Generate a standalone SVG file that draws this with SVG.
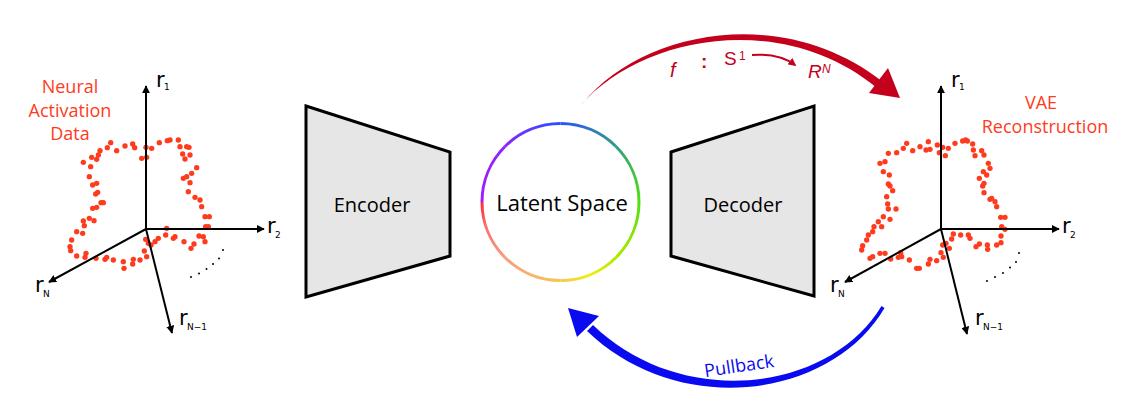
<svg xmlns="http://www.w3.org/2000/svg" width="1142" height="415" viewBox="0 0 1142 415">
<style>
.ax{stroke:#000;stroke-width:2;fill:none;marker-end:url(#ah)}
.rl{font-family:"DejaVu Sans",sans-serif;font-size:21px;fill:#000}
.sb{font-family:"DejaVu Sans",sans-serif;font-size:9px;fill:#000}
.lbl{font-family:"Open Sans","Liberation Sans",sans-serif;font-size:18px;fill:#ff3b1d;text-anchor:middle}
.dots circle{fill:#ff3b1d}
.ell circle{fill:#000}
.box{fill:#e6e6e6;stroke:#000;stroke-width:3;stroke-linejoin:miter}
.nt{font-family:"Open Sans","Liberation Sans",sans-serif;font-size:20px;fill:#000;text-anchor:middle}
.red{fill:#c4001c}
.blue{fill:#0a0af0}
.rt{font-family:"Liberation Sans","Open Sans",sans-serif;fill:#c4001c}
.arc{fill:none;stroke-width:3}
</style>
<defs>
<marker id="ah" viewBox="0 0 10 10" refX="9" refY="5" markerWidth="4" markerHeight="4" orient="auto" markerUnits="strokeWidth">
<path d="M0,0 L10,5 L0,10 z" fill="#000"/>
</marker>
<marker id="ahr" viewBox="0 0 10 10" refX="8" refY="5" markerWidth="4" markerHeight="4" orient="auto" markerUnits="strokeWidth">
<path d="M0,0 L10,5 L0,10 z" fill="#c4001c"/>
</marker>
<linearGradient id="g1" gradientUnits="userSpaceOnUse" x1="639" y1="202" x2="616" y2="257.5"><stop offset="0" stop-color="#50e010"/><stop offset="1" stop-color="#b0e800"/></linearGradient>
<linearGradient id="g2" gradientUnits="userSpaceOnUse" x1="616" y1="257.5" x2="560.5" y2="280.5"><stop offset="0" stop-color="#b0e800"/><stop offset="0.5" stop-color="#eef010"/><stop offset="1" stop-color="#f5c850"/></linearGradient>
<linearGradient id="g3" gradientUnits="userSpaceOnUse" x1="560.5" y1="280.5" x2="505" y2="257.5"><stop offset="0" stop-color="#f5c850"/><stop offset="1" stop-color="#f89c80"/></linearGradient>
<linearGradient id="g4" gradientUnits="userSpaceOnUse" x1="505" y1="257.5" x2="482" y2="202"><stop offset="0" stop-color="#f89c80"/><stop offset="0.6" stop-color="#fa7070"/><stop offset="1" stop-color="#ff2a3a"/></linearGradient>
<linearGradient id="g5" gradientUnits="userSpaceOnUse" x1="482" y1="202" x2="505" y2="146.5"><stop offset="0" stop-color="#a01cff"/><stop offset="1" stop-color="#8a26ff"/></linearGradient>
<linearGradient id="g6" gradientUnits="userSpaceOnUse" x1="505" y1="146.5" x2="560.5" y2="123.5"><stop offset="0" stop-color="#8a26ff"/><stop offset="1" stop-color="#2a50ff"/></linearGradient>
<linearGradient id="g7" gradientUnits="userSpaceOnUse" x1="560.5" y1="123.5" x2="616" y2="146.5"><stop offset="0" stop-color="#2a50ff"/><stop offset="1" stop-color="#30a080"/></linearGradient>
<linearGradient id="g8" gradientUnits="userSpaceOnUse" x1="616" y1="146.5" x2="639" y2="202"><stop offset="0" stop-color="#30a080"/><stop offset="1" stop-color="#50e010"/></linearGradient>
</defs>

<g id="plot-left">
<text class="lbl" x="70" y="93">Neural</text>
<text class="lbl" x="70" y="117">Activation</text>
<text class="lbl" x="70" y="140">Data</text>
<g class="dots" transform="translate(0,60) scale(0.33333)">
<circle cx="332" cy="248" r="8"/><circle cx="300" cy="272" r="8"/><circle cx="322" cy="263" r="8"/><circle cx="350" cy="272" r="8"/><circle cx="375" cy="258" r="8"/><circle cx="398" cy="252" r="8"/><circle cx="404" cy="263" r="8"/><circle cx="438" cy="262" r="8"/><circle cx="455" cy="265" r="8"/><circle cx="425" cy="295" r="8"/><circle cx="440" cy="292" r="8"/><circle cx="478" cy="248" r="8"/><circle cx="502" cy="242" r="8"/><circle cx="510" cy="240" r="8"/><circle cx="535" cy="240" r="8"/><circle cx="540" cy="260" r="8"/><circle cx="560" cy="260" r="8"/><circle cx="567" cy="262" r="8"/><circle cx="548" cy="282" r="8"/><circle cx="570" cy="285" r="8"/><circle cx="555" cy="297" r="8"/><circle cx="590" cy="323" r="8"/><circle cx="575" cy="340" r="8"/><circle cx="560" cy="350" r="8"/><circle cx="550" cy="355" r="8"/><circle cx="570" cy="368" r="8"/><circle cx="565" cy="395" r="8"/><circle cx="585" cy="412" r="8"/><circle cx="600" cy="420" r="8"/><circle cx="605" cy="440" r="8"/><circle cx="615" cy="470" r="8"/><circle cx="628" cy="470" r="8"/><circle cx="617" cy="500" r="8"/><circle cx="625" cy="500" r="8"/><circle cx="610" cy="530" r="8"/><circle cx="615" cy="545" r="8"/><circle cx="597" cy="528" r="8"/><circle cx="582" cy="552" r="8"/><circle cx="573" cy="565" r="8"/><circle cx="552" cy="545" r="8"/><circle cx="525" cy="530" r="8"/><circle cx="520" cy="535" r="8"/><circle cx="497" cy="525" r="8"/><circle cx="500" cy="505" r="8"/><circle cx="475" cy="535" r="8"/><circle cx="465" cy="545" r="8"/><circle cx="437" cy="538" r="8"/><circle cx="445" cy="550" r="8"/><circle cx="453" cy="555" r="8"/><circle cx="433" cy="573" r="8"/><circle cx="440" cy="590" r="8"/><circle cx="420" cy="600" r="8"/><circle cx="400" cy="598" r="8"/><circle cx="398" cy="612" r="8"/><circle cx="370" cy="605" r="8"/><circle cx="372" cy="625" r="8"/><circle cx="340" cy="600" r="8"/><circle cx="315" cy="598" r="8"/><circle cx="320" cy="592" r="8"/><circle cx="288" cy="595" r="8"/><circle cx="258" cy="580" r="8"/><circle cx="255" cy="592" r="8"/><circle cx="230" cy="588" r="8"/><circle cx="210" cy="560" r="8"/><circle cx="212" cy="572" r="8"/><circle cx="215" cy="540" r="8"/><circle cx="230" cy="515" r="8"/><circle cx="248" cy="520" r="8"/><circle cx="253" cy="497" r="8"/><circle cx="250" cy="483" r="8"/><circle cx="268" cy="475" r="8"/><circle cx="282" cy="482" r="8"/><circle cx="278" cy="445" r="8"/><circle cx="290" cy="442" r="8"/><circle cx="303" cy="428" r="8"/><circle cx="310" cy="428" r="8"/><circle cx="287" cy="402" r="8"/><circle cx="293" cy="397" r="8"/><circle cx="278" cy="375" r="8"/><circle cx="290" cy="370" r="8"/><circle cx="268" cy="350" r="8"/><circle cx="272" cy="320" r="8"/><circle cx="250" cy="307" r="8"/><circle cx="275" cy="292" r="8"/><circle cx="290" cy="298" r="8"/><circle cx="295" cy="285" r="8"/>
</g>
<line class="ax" x1="146" y1="229" x2="146" y2="86"/>
<line class="ax" x1="146" y1="229" x2="264" y2="229"/>
<line class="ax" x1="146" y1="229" x2="49" y2="282"/>
<line class="ax" x1="146" y1="229" x2="172" y2="333"/>
<g class="ell"><circle cx="191" cy="277" r="1"/><circle cx="199" cy="273.5" r="1"/><circle cx="206.5" cy="269" r="1"/><circle cx="213" cy="264" r="1"/><circle cx="219" cy="258.5" r="1"/><circle cx="223" cy="250" r="1"/></g>
<text class="rl" x="156" y="87">r</text><text class="sb" x="164" y="90">1</text>
<text class="rl" x="267" y="233">r</text><text class="sb" x="275" y="238">2</text>
<text class="rl" x="35" y="292">r</text><text class="sb" x="43" y="297">N</text>
<text class="rl" x="179" y="325">r</text><text class="sb" x="187" y="330">N−1</text>
</g>

<g id="encoder">
<polygon class="box" points="306,106 450,152 450,256 306,297"/>
<text class="nt" x="372" y="212">Encoder</text>
</g>

<g id="latent">
<path class="arc" stroke="url(#g1)" d="M639,202 A78.5,78.5 0 0 1 616,257.5"/>
<path class="arc" stroke="url(#g2)" d="M616,257.5 A78.5,78.5 0 0 1 560.5,280.5"/>
<path class="arc" stroke="url(#g3)" d="M560.5,280.5 A78.5,78.5 0 0 1 505,257.5"/>
<path class="arc" stroke="url(#g4)" d="M505,257.5 A78.5,78.5 0 0 1 482,202"/>
<path class="arc" stroke="url(#g5)" d="M482,202 A78.5,78.5 0 0 1 505,146.5"/>
<path class="arc" stroke="url(#g6)" d="M505,146.5 A78.5,78.5 0 0 1 560.5,123.5"/>
<path class="arc" stroke="url(#g7)" d="M560.5,123.5 A78.5,78.5 0 0 1 616,146.5"/>
<path class="arc" stroke="url(#g8)" d="M616,146.5 A78.5,78.5 0 0 1 639,202"/>
<text class="nt" x="562" y="211" style="font-size:22px">Latent Space</text>
</g>

<g id="decoder">
<polygon class="box" points="671,152 814,106 814,296 671,256"/>
<text class="nt" x="743" y="212">Decoder</text>
</g>

<g id="plot-right">
<text class="lbl" x="1041" y="109">VAE</text>
<text class="lbl" x="1045" y="133">Reconstruction</text>
<g class="dots" transform="translate(820,60) scale(0.33333)">
<circle cx="260" cy="250" r="8"/><circle cx="230" cy="278" r="8"/><circle cx="205" cy="280" r="8"/><circle cx="250" cy="265" r="8"/><circle cx="278" cy="272" r="8"/><circle cx="300" cy="260" r="8"/><circle cx="318" cy="270" r="8"/><circle cx="325" cy="245" r="8"/><circle cx="330" cy="268" r="8"/><circle cx="352" cy="255" r="8"/><circle cx="368" cy="262" r="8"/><circle cx="385" cy="265" r="8"/><circle cx="405" cy="250" r="8"/><circle cx="428" cy="243" r="8"/><circle cx="437" cy="240" r="8"/><circle cx="442" cy="243" r="8"/><circle cx="358" cy="278" r="8"/><circle cx="376" cy="287" r="8"/><circle cx="458" cy="252" r="8"/><circle cx="460" cy="270" r="8"/><circle cx="465" cy="287" r="8"/><circle cx="485" cy="272" r="8"/><circle cx="492" cy="285" r="8"/><circle cx="505" cy="310" r="8"/><circle cx="510" cy="325" r="8"/><circle cx="490" cy="335" r="8"/><circle cx="500" cy="345" r="8"/><circle cx="478" cy="355" r="8"/><circle cx="492" cy="370" r="8"/><circle cx="488" cy="378" r="8"/><circle cx="492" cy="398" r="8"/><circle cx="515" cy="415" r="8"/><circle cx="510" cy="418" r="8"/><circle cx="525" cy="425" r="8"/><circle cx="530" cy="440" r="8"/><circle cx="542" cy="472" r="8"/><circle cx="555" cy="472" r="8"/><circle cx="545" cy="500" r="8"/><circle cx="555" cy="508" r="8"/><circle cx="543" cy="528" r="8"/><circle cx="543" cy="548" r="8"/><circle cx="530" cy="555" r="8"/><circle cx="502" cy="555" r="8"/><circle cx="503" cy="568" r="8"/><circle cx="478" cy="552" r="8"/><circle cx="468" cy="560" r="8"/><circle cx="445" cy="525" r="8"/><circle cx="450" cy="535" r="8"/><circle cx="422" cy="525" r="8"/><circle cx="400" cy="522" r="8"/><circle cx="395" cy="537" r="8"/><circle cx="378" cy="550" r="8"/><circle cx="368" cy="555" r="8"/><circle cx="363" cy="578" r="8"/><circle cx="388" cy="565" r="8"/><circle cx="370" cy="592" r="8"/><circle cx="350" cy="602" r="8"/><circle cx="330" cy="598" r="8"/><circle cx="325" cy="612" r="8"/><circle cx="298" cy="625" r="8"/><circle cx="290" cy="625" r="8"/><circle cx="268" cy="600" r="8"/><circle cx="245" cy="590" r="8"/><circle cx="242" cy="578" r="8"/><circle cx="235" cy="592" r="8"/><circle cx="212" cy="597" r="8"/><circle cx="195" cy="580" r="8"/><circle cx="180" cy="580" r="8"/><circle cx="158" cy="590" r="8"/><circle cx="150" cy="595" r="8"/><circle cx="125" cy="570" r="8"/><circle cx="128" cy="557" r="8"/><circle cx="140" cy="540" r="8"/><circle cx="145" cy="525" r="8"/><circle cx="158" cy="515" r="8"/><circle cx="162" cy="500" r="8"/><circle cx="175" cy="485" r="8"/><circle cx="190" cy="470" r="8"/><circle cx="185" cy="500" r="8"/><circle cx="210" cy="478" r="8"/><circle cx="228" cy="447" r="8"/><circle cx="205" cy="447" r="8"/><circle cx="203" cy="432" r="8"/><circle cx="200" cy="410" r="8"/><circle cx="218" cy="392" r="8"/><circle cx="210" cy="378" r="8"/><circle cx="205" cy="372" r="8"/><circle cx="208" cy="345" r="8"/><circle cx="190" cy="335" r="8"/><circle cx="180" cy="310" r="8"/><circle cx="195" cy="305" r="8"/>
</g>
<line class="ax" x1="941" y1="229" x2="941" y2="86"/>
<line class="ax" x1="941" y1="229" x2="1059" y2="229"/>
<line class="ax" x1="941" y1="229" x2="845" y2="282"/>
<line class="ax" x1="941" y1="229" x2="967" y2="334"/>
<g class="ell"><circle cx="987" cy="281" r="1"/><circle cx="995" cy="277" r="1"/><circle cx="1003" cy="273" r="1"/><circle cx="1010" cy="267.5" r="1"/><circle cx="1016" cy="262" r="1"/><circle cx="1019" cy="253" r="1"/></g>
<text class="rl" x="951" y="87">r</text><text class="sb" x="959" y="90">1</text>
<text class="rl" x="1062" y="233">r</text><text class="sb" x="1070" y="238">2</text>
<text class="rl" x="830" y="292">r</text><text class="sb" x="838" y="297">N</text>
<text class="rl" x="975" y="325">r</text><text class="sb" x="983" y="330">N−1</text>
</g>

<g id="connectors">
<g id="forward-map">
<path class="red" d="M583,103 C641,32 781,2 883,82 L877,88 C779,8 639,38 581,105 Z"/>
<polygon class="red" points="888,68 900,98 869,93"/>
<text class="rt" x="670" y="77" style="font-size:20px;font-style:italic">f</text>
<text class="rt" x="701" y="68" style="font-size:19px;font-weight:bold">:</text>
<text class="rt" x="724" y="65" style="font-size:19px">S</text>
<text class="rt" x="739" y="60" style="font-size:12px">1</text>
<path d="M752,55 Q779,53 795,65" fill="none" stroke="#c4001c" stroke-width="2" marker-end="url(#ahr)"/>
<text class="rt" x="808" y="78" style="font-size:19px;font-style:italic">R</text>
<text class="rt" x="822" y="73" style="font-size:12px;font-style:italic">N</text>
</g>
<g id="pullback">
<path class="blue" d="M884.5,308 C832,398 680,420 587,331 L593,325 C681,410 829,393 881.5,306 Z"/>
<polygon class="blue" points="599,316 568,308 577,337"/>
<text transform="translate(740,372) rotate(-8.5)" text-anchor="middle" style="font-family:'Open Sans','Liberation Sans',sans-serif;font-size:18px;fill:#0a0af0">Pullback</text>
</g>
</g>
</svg>
